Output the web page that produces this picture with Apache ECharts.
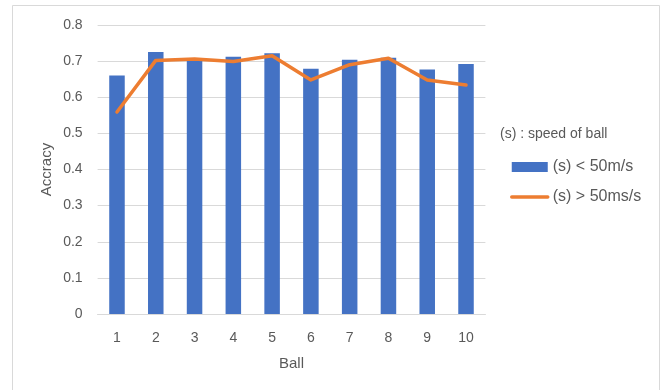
<!DOCTYPE html>
<html>
<head>
<meta charset="utf-8">
<script src="https://cdn.jsdelivr.net/npm/echarts@6/dist/echarts.min.js"></script>
<style>
html,body{margin:0;padding:0;background:#fff;}
#chart{width:664px;height:390px;}
</style>
</head>
<body>
<div id="chart"></div>
<script>
var categories = ['1','2','3','4','5','6','7','8','9','10'];
var slowValues = [0.660, 0.725, 0.705, 0.712, 0.722, 0.679, 0.704, 0.709, 0.677, 0.692];
var fastValues = [0.559, 0.702, 0.706, 0.699, 0.715, 0.648, 0.690, 0.708, 0.648, 0.634];
var slowName = '(s) < 50m/s';
var fastName = '(s) > 50ms/s';
var legendTitle = '(s) : speed of ball';
var xTitle = 'Ball';
var yTitle = 'Accracy';

var textColor = '#595959';
var fontFam = '"Liberation Sans", Arial, sans-serif';
var chart = echarts.init(document.getElementById('chart'), null, {renderer: 'canvas'});
chart.setOption({
  backgroundColor: '#ffffff',
  animation: false,
  textStyle: {fontFamily: fontFam},
  graphic: [
    {type: 'rect', shape: {x: 12.5, y: 5.5, width: 647, height: 400}, style: {fill: 'none', stroke: '#D9D9D9', lineWidth: 1}, z: 0},
    {type: 'text', left: 500, top: 127, style: {text: legendTitle, fill: textColor, font: '14px "Liberation Sans", Arial, sans-serif'}}
  ],
  grid: {left: 97.6, right: 178.6, top: 25, bottom: 76},
  legend: {
    orient: 'vertical',
    left: 505,
    top: 152,
    itemWidth: 36,
    itemHeight: 10,
    itemGap: 10,
    data: [
      {name: slowName, icon: 'rect'},
      {name: fastName, itemStyle: {opacity: 0, color: 'rgba(0,0,0,0)', borderWidth: 0}, lineStyle: {width: 3.5, color: '#ED7D31'}}
    ],
    textStyle: {color: textColor, fontSize: 16, lineHeight: 20, fontFamily: fontFam}
  },
  xAxis: {
    type: 'category',
    data: categories,
    name: xTitle,
    nameLocation: 'middle',
    nameGap: 42,
    nameMoveOverlap: false,
    nameTextStyle: {color: textColor, fontSize: 15},
    axisLine: {lineStyle: {color: '#D9D9D9', width: 1}},
    axisTick: {show: false},
    axisLabel: {color: textColor, fontSize: 14, margin: 17}
  },
  yAxis: {
    type: 'value',
    min: 0,
    max: 0.8,
    interval: 0.1,
    name: yTitle,
    nameLocation: 'middle',
    nameGap: 43,
    nameMoveOverlap: false,
    nameTextStyle: {color: textColor, fontSize: 15},
    axisLine: {show: false},
    axisTick: {show: false},
    splitLine: {lineStyle: {color: '#D9D9D9', width: 1}},
    axisLabel: {color: textColor, fontSize: 14, margin: 15, formatter: function(v){ return v === 0 ? '0' : v.toFixed(1); }}
  },
  series: [
    {
      name: slowName,
      type: 'bar',
      data: slowValues,
      barWidth: '40%',
      itemStyle: {color: '#4472C4'},
      z: 2
    },
    {
      name: fastName,
      type: 'line',
      data: fastValues,
      symbol: 'none',
      lineStyle: {color: '#ED7D31', width: 3.5, cap: 'round', join: 'round'},
      itemStyle: {color: '#ED7D31'},
      z: 3
    }
  ]
});
</script>
</body>
</html>
